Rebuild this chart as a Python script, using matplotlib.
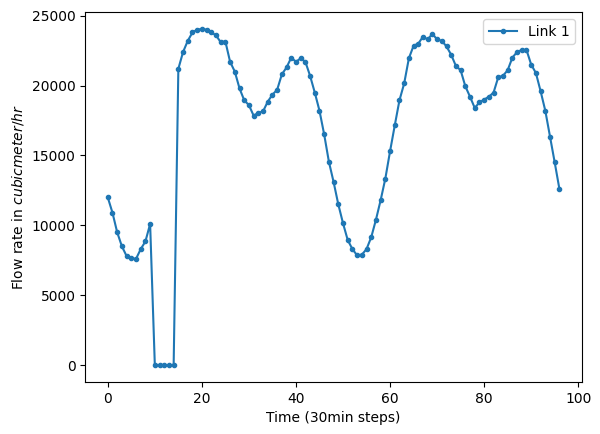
import matplotlib

matplotlib.use("Agg")

import matplotlib.pyplot as plt
import numpy as np

flow = [
    12000, 10900, 9500, 8500, 7800, 7650, 7600, 8300, 8850, 10100,
    0, 0, 0, 0, 0,
    21200, 22400, 23200, 23800, 24000, 24050, 24000, 23800, 23600, 23100,
    23150, 21700, 21000, 19800, 18950, 18600, 17850, 18050, 18150, 18850,
    19350, 19700, 20800, 21300, 22000, 21700, 21950, 21700, 20700, 19500,
    18200, 16500, 14550, 13100, 11500, 10150, 8950, 8300, 7850, 7900,
    8300, 9150, 10400, 11800, 13350, 15300, 17150, 18950, 20150, 21950,
    22850, 23000, 23500, 23300, 23700, 23300, 23200, 22800, 22200, 21400,
    21100, 19950, 19200, 18400, 18800, 19000, 19200, 19500, 20600, 20700,
    21100, 22000, 22400, 22550, 22550, 21500, 20900, 19600, 18200, 16350,
    14500, 12600,
]
steps = np.arange(len(flow))

fig, ax = plt.subplots(figsize=(6.0, 4.34), dpi=100)
ax.plot(steps, flow, marker=".", label="Link 1")
ax.set_xlabel("Time (30min steps)")
ax.set_ylabel("Flow rate in $cubicmeter/hr$")
ax.legend()
fig.subplots_adjust(left=0.142, right=0.97, bottom=0.12, top=0.972)
fig.savefig("out.png", dpi=100)
